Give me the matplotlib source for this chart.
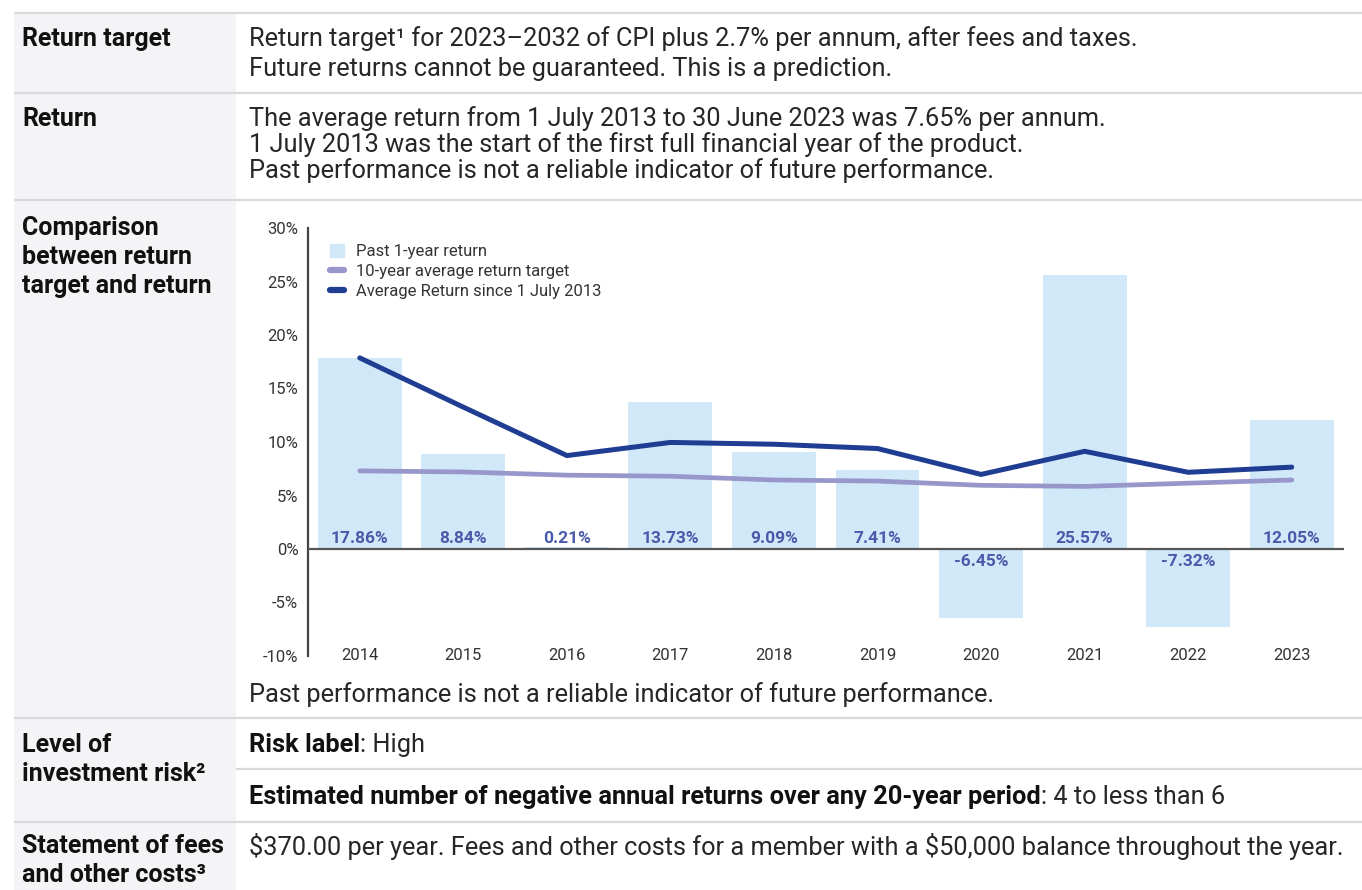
import matplotlib
matplotlib.use("Agg")
import matplotlib.pyplot as plt
from matplotlib.patches import Rectangle, Patch
from matplotlib.lines import Line2D

plt.rcParams['font.family'] = ['Roboto', 'DejaVu Sans']

# chart data
years = ['2014', '2015', '2016', '2017', '2018', '2019', '2020', '2021', '2022', '2023']
past_return = [17.86, 8.84, 0.21, 13.73, 9.09, 7.41, -6.45, 25.57, -7.32, 12.05]
target_avg = [7.3, 7.2, 6.9, 6.8, 6.45, 6.35, 5.95, 5.85, 6.15, 6.45]
avg_since_2013 = [17.86, 13.26, 8.73, 9.96, 9.79, 9.39, 6.97, 9.13, 7.17, 7.65]
yticks = [-10, -5, 0, 5, 10, 15, 20, 25, 30]

# table texts
row_labels = [
    (39, ['Return target']),
    (119, ['Return']),
    (228, ['Comparison', 'between return', 'target and return']),
    (745, ['Level of', 'investment risk\u00b2']),
    (846, ['Statement of fees', 'and other costs\u00b3']),
]
row_texts = [
    (39, 'Return target\u00b9 for 2023\u20132032 of CPI plus 2.7% per annum, after fees and taxes.'),
    (69, 'Future returns cannot be guaranteed. This is a prediction.'),
    (119, 'The average return from 1 July 2013 to 30 June 2023 was 7.65% per annum.'),
    (145, '1 July 2013 was the start of the first full financial year of the product.'),
    (171, 'Past performance is not a reliable indicator of future performance.'),
    (695, 'Past performance is not a reliable indicator of future performance.'),
    (846, '$370.00 per year. Fees and other costs for a member with a $50,000 balance throughout the year.'),
]
mixed_texts = [
    (745, 'Risk label', ': High'),
    (797, 'Estimated number of negative annual returns over any 20-year period', ': 4 to less than 6'),
]

BAR_C = '#d0e8f7'
TARGET_C = '#9797cb'
AVG_C = '#1f3d92'
LABEL_C = '#4a5aaa'
TXT_C = '#111111'
BODY_C = '#262626'
GRID_C = '#d9d9dc'

fig = plt.figure(figsize=(13.62, 8.90), dpi=100)

# background layer in pixel coordinates
bg = fig.add_axes([0, 0, 1, 1], zorder=0)
bg.set_xlim(0, 1362)
bg.set_ylim(890, 0)
bg.axis('off')
bg.add_patch(Rectangle((14, 13), 222, 877, color='#f4f4f7', lw=0))
for y in [13, 93, 200, 718, 822]:
    bg.plot([14, 1362], [y, y], color=GRID_C, lw=1.6, solid_capstyle='butt')
bg.plot([236, 1362], [769, 769], color=GRID_C, lw=1.6, solid_capstyle='butt')

FS = 18.3
LFS = 18.0
BODY_W = 'normal'
for y0, lines in row_labels:
    for i, s in enumerate(lines):
        bg.text(22, y0 + i * 29, s, fontsize=LFS, fontweight='bold', color=TXT_C,
                va='center', ha='left')

for y, s in row_texts:
    bg.text(249, y, s, fontsize=FS, fontweight=BODY_W, color=BODY_C, va='center',
            ha='left', parse_math=False)

for y, s_bold, s_rest in mixed_texts:
    t1 = bg.text(249, y, s_bold, fontsize=FS, fontweight='bold', color=TXT_C,
                 va='center', ha='left')
    bg.annotate(s_rest, xy=(1, 0), xycoords=t1, fontsize=FS, fontweight=BODY_W,
                color=BODY_C, va='bottom', ha='left')

# chart
ax = fig.add_axes([308 / 1362, 1 - 656 / 890, 1035.5 / 1362, 428 / 890], zorder=2)
ax.patch.set_alpha(0)
x = list(range(len(years)))
ax.bar(x, past_return, width=0.81, color=BAR_C, zorder=1)
ax.plot(x, target_avg, color=TARGET_C, lw=3.4, solid_capstyle='round', zorder=2)
ax.plot(x, avg_since_2013, color=AVG_C, lw=3.6, solid_capstyle='round',
        solid_joinstyle='miter', zorder=3)
ax.axhline(0, color='#555555', lw=1.6, zorder=4)

for xi, v in zip(x, past_return):
    if v >= 0:
        ax.text(xi, 0.25, f'{v:.2f}%', ha='center', va='bottom', fontsize=12.5,
                fontweight='bold', color=LABEL_C, zorder=5)
    else:
        ax.text(xi, -0.45, f'{v:.2f}%', ha='center', va='top', fontsize=12.5,
                fontweight='bold', color=LABEL_C, zorder=5)

for xi, yr in zip(x, years):
    ax.text(xi, -10, yr, ha='center', va='center', fontsize=12, color='#333333')

ax.set_xlim(-0.5, 9.5)
ax.set_ylim(-10, 30)
ax.set_yticks(yticks)
ax.set_yticklabels([f'{t}%' for t in yticks], fontsize=12, color='#333333')
ax.tick_params(axis='y', length=0, pad=7)
ax.set_xticks([])
for side in ['top', 'right', 'bottom']:
    ax.spines[side].set_visible(False)
ax.spines['left'].set_color('#444444')
ax.spines['left'].set_linewidth(1.6)

handles = [
    Patch(color=BAR_C, label='Past 1-year return'),
    Line2D([0], [0], color=TARGET_C, lw=4.5, solid_capstyle='round', label='10-year average return target'),
    Line2D([0], [0], color=AVG_C, lw=4.5, solid_capstyle='round', label='Average Return since 1 July 2013'),
]
ax.legend(handles=handles, loc='upper left', bbox_to_anchor=(0.01, 0.99), frameon=False,
          fontsize=12, handlelength=0.85, handleheight=0.8, handletextpad=0.7,
          labelspacing=0.3, borderpad=0.2, labelcolor='#333333')

fig.savefig('out.png', dpi=100)
